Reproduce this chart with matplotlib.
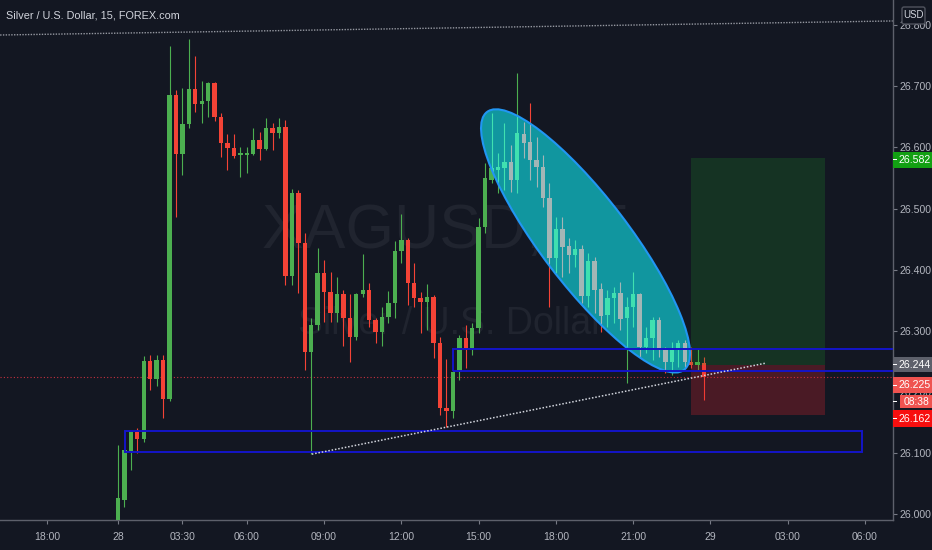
"""XAGUSD 15-minute chart with drawings, TradingView dark style."""

import matplotlib

matplotlib.use("Agg")
import matplotlib.pyplot as plt
import numpy as np
from matplotlib.patches import Ellipse, PathPatch, Rectangle, FancyBboxPatch
from matplotlib.transforms import IdentityTransform

# ---- data ----
opens = [25.975, 26.023, 26.103, 26.134, 26.123, 26.250, 26.221, 26.252, 26.188, 26.686,
         26.589, 26.638, 26.696, 26.671, 26.676, 26.705, 26.650, 26.607, 26.599, 26.588,
         26.588, 26.589, 26.612, 26.597, 26.632, 26.624, 26.633, 26.390, 26.525, 26.444,
         26.265, 26.309, 26.394, 26.363, 26.329, 26.360, 26.321, 26.290, 26.360, 26.367,
         26.318, 26.298, 26.322, 26.345, 26.431, 26.449, 26.378, 26.354, 26.347, 26.355,
         26.280, 26.174, 26.169, 26.232, 26.288, 26.272, 26.304, 26.470, 26.547, 26.563,
         26.566, 26.576, 26.547, 26.622, 26.609, 26.579, 26.568, 26.517, 26.419, 26.467,
         26.439, 26.424, 26.434, 26.357, 26.414, 26.368, 26.326, 26.354, 26.362, 26.321,
         26.339, 26.360, 26.273, 26.288, 26.318, 26.268, 26.249, 26.268, 26.280, 26.249,
         26.244, 26.247]
highs = [26.113, 26.105, 26.136, 26.141, 26.259, 26.260, 26.260, 26.260, 26.766, 26.694,
         26.697, 26.777, 26.750, 26.709, 26.707, 26.707, 26.656, 26.622, 26.622, 26.601,
         26.601, 26.632, 26.625, 26.648, 26.640, 26.648, 26.645, 26.532, 26.530, 26.460,
         26.321, 26.435, 26.416, 26.396, 26.388, 26.367, 26.360, 26.362, 26.426, 26.378,
         26.321, 26.339, 26.365, 26.447, 26.491, 26.452, 26.411, 26.363, 26.376, 26.358,
         26.290, 26.254, 26.236, 26.293, 26.309, 26.313, 26.485, 26.575, 26.656, 26.591,
         26.640, 26.604, 26.722, 26.642, 26.673, 26.617, 26.588, 26.542, 26.486, 26.486,
         26.452, 26.449, 26.440, 26.427, 26.421, 26.378, 26.367, 26.372, 26.380, 26.355,
         26.396, 26.362, 26.306, 26.322, 26.322, 26.273, 26.282, 26.285, 26.285, 26.273,
         26.270, 26.257]
lows = [25.965, 26.012, 26.072, 26.100, 26.118, 26.203, 26.210, 26.157, 26.185, 26.486,
        26.555, 26.632, 26.658, 26.640, 26.650, 26.643, 26.584, 26.563, 26.583, 26.552,
        26.558, 26.588, 26.579, 26.596, 26.596, 26.615, 26.375, 26.375, 26.362, 26.236,
        26.098, 26.301, 26.314, 26.314, 26.314, 26.275, 26.249, 26.285, 26.355, 26.306,
        26.280, 26.275, 26.313, 26.321, 26.411, 26.342, 26.339, 26.296, 26.301, 26.255,
        26.162, 26.142, 26.157, 26.219, 26.239, 26.260, 26.296, 26.460, 26.542, 26.525,
        26.530, 26.527, 26.525, 26.583, 26.547, 26.535, 26.503, 26.339, 26.394, 26.388,
        26.394, 26.404, 26.345, 26.339, 26.329, 26.298, 26.306, 26.313, 26.301, 26.214,
        26.306, 26.257, 26.264, 26.252, 26.257, 26.231, 26.228, 26.241, 26.239, 26.239,
        26.236, 26.186]
closes = [26.026, 26.105, 26.134, 26.123, 26.250, 26.221, 26.252, 26.188, 26.686, 26.589,
          26.638, 26.696, 26.671, 26.676, 26.705, 26.650, 26.607, 26.599, 26.586, 26.591,
          26.591, 26.612, 26.597, 26.632, 26.624, 26.633, 26.390, 26.525, 26.444, 26.265,
          26.309, 26.394, 26.363, 26.329, 26.360, 26.321, 26.290, 26.360, 26.367, 26.318,
          26.298, 26.322, 26.345, 26.431, 26.449, 26.378, 26.354, 26.347, 26.355, 26.280,
          26.174, 26.169, 26.232, 26.288, 26.272, 26.304, 26.470, 26.550, 26.566, 26.568,
          26.576, 26.547, 26.624, 26.607, 26.579, 26.568, 26.517, 26.419, 26.467, 26.437,
          26.424, 26.434, 26.357, 26.414, 26.367, 26.324, 26.354, 26.362, 26.319, 26.339,
          26.360, 26.273, 26.288, 26.318, 26.268, 26.249, 26.268, 26.280, 26.249, 26.244,
          26.249, 26.225]

tick_bars = [-11, 0, 10, 20, 32, 44, 56, 68, 80, 92, 104, 116]
tick_labels = ["18:00", "28", "03:30", "06:00", "09:00", "12:00", "15:00",
               "18:00", "21:00", "29", "03:00", "06:00"]
price_ticks = [26.0, 26.1, 26.2, 26.3, 26.4, 26.5, 26.6, 26.7, 26.8]

# drawings (bar index, price)
upper_zone = (52.0, 26.234, 26.270)
lower_zone = (1.1, 115.5, 26.101, 26.136)
trend_line = [(30.1, 26.098), (100.6, 26.247)]
top_line = [(-18.3, 26.784), (120.3, 26.807)]
ellipse_axis = [(57.3, 26.658), (87.9, 26.236)]
position = dict(x0=89.0, x1=109.8, entry=26.244, target=26.582, stop=26.162)
last_price = 26.225
countdown = "08:38"

BG = "#131722"
TEXT = "#b2b5be"
UP, DOWN = "#4caf50", "#f44336"
W, H = 932, 550
FONT = "Liberation Sans"


def draw_candles(ax, up, down, zorder, clip=None):
    x = np.arange(len(opens))
    o, h, l, c = map(np.asarray, (opens, highs, lows, closes))
    colors = [up if cc >= oo else down for oo, cc in zip(o, c)]
    wicks = ax.vlines(x, l, h, colors=colors, linewidth=0.8, zorder=zorder)
    bottom = np.minimum(o, c)
    height = np.maximum(np.abs(c - o), 0.0025)
    bars = ax.bar(x, height, bottom=bottom, width=0.68, color=colors,
                  linewidth=0, zorder=zorder + 0.1)
    if clip is not None:
        wicks.set_clip_path(clip)
        for b in bars:
            b.set_clip_path(clip)


def main():
    fig = plt.figure(figsize=(W / 100, H / 100), dpi=100, facecolor=BG)
    ax = fig.add_axes([0, 30 / H, 893 / W, 520 / H])
    ax.set_facecolor(BG)
    ax.set_xlim(-18.32, 120.34)
    ax.set_ylim(25.9902, 26.8413)

    for side in ("top", "left"):
        ax.spines[side].set_visible(False)
    for side in ("right", "bottom"):
        ax.spines[side].set_color("#5d606b")
        ax.spines[side].set_linewidth(1)

    ax.yaxis.tick_right()
    ax.set_yticks(price_ticks)
    ax.set_yticklabels([f"{p:.3f}" for p in price_ticks], family=FONT, fontsize=7.6)
    ax.set_xticks(tick_bars)
    ax.set_xticklabels(tick_labels, family=FONT, fontsize=7.5)
    ax.tick_params(axis="y", colors="#787b86", labelcolor=TEXT, length=3, pad=1.5)
    ax.tick_params(axis="x", colors="#787b86", labelcolor=TEXT, length=3, pad=6)

    # watermark
    ax.text(0.5, 0.523, "XAGUSD, 15", transform=ax.transAxes, family=FONT, fontsize=45,
            color="#20242f", ha="center", va="baseline", zorder=1)
    ax.text(0.505, 0.358, "Silver / U.S. Dollar", transform=ax.transAxes, family=FONT,
            fontsize=27, color="#20242f", ha="center", va="baseline", zorder=1)

    draw_candles(ax, UP, DOWN, zorder=3)

    # current price line
    ax.axhline(last_price, color="#f23645", lw=0.8, ls=(0, (1, 2)), alpha=0.8, zorder=2)

    # long position tool
    p = position
    ax.add_patch(Rectangle((p["x0"], p["entry"]), p["x1"] - p["x0"], p["target"] - p["entry"],
                           facecolor="#22a52a", alpha=0.2, lw=0, zorder=4))
    ax.add_patch(Rectangle((p["x0"], p["stop"]), p["x1"] - p["x0"], p["entry"] - p["stop"],
                           facecolor="#f0242e", alpha=0.25, lw=0, zorder=4))

    # ellipse built in pixel space, mapped back to data
    p1 = ax.transData.transform(ellipse_axis[0])
    p2 = ax.transData.transform(ellipse_axis[1])
    d = p2 - p1
    major = np.hypot(*d)
    ell = Ellipse((p1 + p2) / 2, major, major * 0.27, angle=np.degrees(np.arctan2(d[1], d[0])))
    path = ell.get_path().transformed(ell.get_patch_transform())
    path = path.transformed(ax.transData.inverted())
    fill = PathPatch(path, facecolor="#11969f", edgecolor="none", zorder=5)
    ax.add_patch(fill)
    draw_candles(ax, "#40e0b0", "#a3b6b6", zorder=6, clip=fill)
    ax.add_patch(PathPatch(path, facecolor="none", edgecolor="#2196f3", lw=1.5, zorder=7))

    # zones
    x0, y0, y1 = upper_zone
    ax.add_patch(Rectangle((x0, y0), 200, y1 - y0, fill=False, edgecolor="#1414c8",
                           lw=1.4, zorder=8))
    lx0, lx1, ly0, ly1 = lower_zone
    ax.add_patch(Rectangle((lx0, ly0), lx1 - lx0, ly1 - ly0, fill=False, edgecolor="#1414c8",
                           lw=1.4, zorder=8))

    # dotted lines
    (tx0, ty0), (tx1, ty1) = trend_line
    ax.plot([tx0, tx1], [ty0, ty1], color="#d1d4dc", lw=1.1, ls=(0, (1, 1.2)), zorder=8)
    (ux0, uy0), (ux1, uy1) = top_line
    ax.plot([ux0, ux1], [uy0, uy1], color="#9598a1", lw=1.0, ls=(0, (1, 1)), zorder=8,
            clip_on=False)

    # price tags on the axis
    def tag(price, text, color, dy=0.0, x0=893, height=16, size=7.6):
        yc = ax.transData.transform((0, price))[1] - dy
        fig.add_artist(Rectangle((x0, yc - height / 2), W - x0, height, facecolor=color,
                                 edgecolor="none", transform=IdentityTransform(), zorder=10))
        fig.add_artist(Rectangle((893, yc - 0.5), 4, 1, facecolor="white", edgecolor="none",
                                 transform=IdentityTransform(), zorder=11))
        fig.text((max(x0, 897) + W) / 2 + 0.5, yc, text, transform=IdentityTransform(),
                 color="white", family=FONT, fontsize=size, ha="center", va="center",
                 zorder=11)

    tag(p["target"], f"{p['target']:.3f}", "#13a013", dy=1.5)
    tag(p["entry"], f"{p['entry']:.3f}", "#5d606b", height=15)
    tag(last_price, f"{last_price:.3f}", "#ef5350", dy=8.5, height=16)
    tag(last_price, countdown, "#ef5350", dy=25, x0=900, height=13, size=7.4)
    tag(p["stop"], f"{p['stop']:.3f}", "#f80f0f", dy=3.5, height=17)

    # USD badge
    fig.add_artist(FancyBboxPatch((902, H - 24), 23, 17, boxstyle="round,pad=0,rounding_size=2",
                                  facecolor=BG, edgecolor="#50535e", lw=1,
                                  transform=IdentityTransform(), zorder=12))
    fig.text(913.5, H - 15.5, "USD", transform=IdentityTransform(), color="#d1d4dc",
             family=FONT, fontsize=7, ha="center", va="center", zorder=13)

    fig.text(6, H - 15, "Silver / U.S. Dollar, 15, FOREX.com", transform=IdentityTransform(),
             color="#d1d4dc", family=FONT, fontsize=7.8, ha="left", va="center")

    fig.savefig("out.png", dpi=100, facecolor=BG)


if __name__ == "__main__":
    main()
